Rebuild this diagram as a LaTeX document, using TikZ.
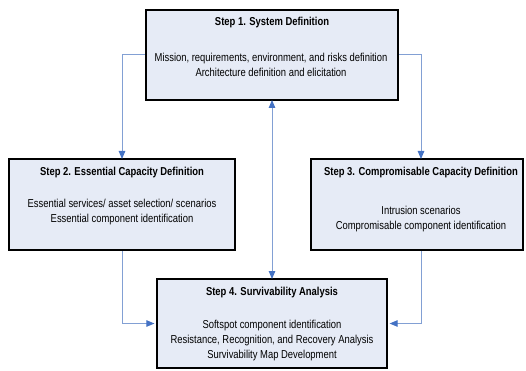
\documentclass[tikz,border=0pt]{standalone}
\usepackage{fontspec}
\setmainfont{Liberation Sans}[FakeStretch=0.82]
\usetikzlibrary{arrows.meta}
\definecolor{boxfill}{RGB}{230,235,246}
\definecolor{connline}{RGB}{130,160,212}
\definecolor{conntip}{RGB}{68,114,196}
\tikzset{
  stepbox/.style={draw=black, line width=2.6pt, fill=boxfill, inner sep=0pt},
  titletext/.style={font=\fontsize{11.5}{15}\selectfont\bfseries, inner sep=0pt},
  bodytext/.style={font=\fontsize{11.5}{15}\selectfont, align=center, inner sep=0pt},
  conn/.style={draw=connline, line width=1pt, -{Triangle[length=8pt,width=6.5pt,color=conntip]}},
  conn2/.style={draw=connline, line width=1pt, {Triangle[length=8pt,width=6.5pt,color=conntip]}-{Triangle[length=8pt,width=6.5pt,color=conntip]}},
}
\begin{document}
\begin{tikzpicture}[x=1pt,y=-1pt]
\useasboundingbox (0,0) rectangle (526,371);
% boxes
\node[stepbox, minimum width=252pt, minimum height=90pt] (b1) at (272,55) {};
\node[stepbox, minimum width=226pt, minimum height=91pt] (b2) at (122,204.5) {};
\node[stepbox, minimum width=212pt, minimum height=91pt] (b3) at (417,204.5) {};
\node[stepbox, minimum width=230pt, minimum height=89pt] (b4) at (272,323.5) {};
% texts
\node[titletext] (t1) at (272,23) {Step 1. System Definition};
\node[bodytext] (d1) at (271,64.5) {Mission, requirements, environment, and risks definition\\Architecture definition and elicitation};
\node[titletext] (t2) at (122,173) {Step 2. Essential Capacity Definition};
\node[bodytext] (d2) at (122,212) {Essential services/ asset selection/ scenarios\\Essential component identification};
\node[titletext] (t3) at (421,173) {Step 3. Compromisable Capacity Definition};
\node[bodytext] (d3) at (421,219.5) {Intrusion scenarios\\Compromisable component identification};
\node[titletext] (t4) at (272,293) {Step 4. Survivability Analysis};
\node[bodytext] (d4) at (272,341) {Softspot component identification\\Resistance, Recognition, and Recovery Analysis\\Survivability Map Development};
% connectors
\draw[conn] (b1.west) -| ([yshift=-1.3pt]b2.north);
\draw[conn] (b1.east) -| ([xshift=4pt,yshift=-1.3pt]b3.north);
\draw[conn2] ([yshift=1.3pt]b1.south) -- ([yshift=-1.3pt]b4.north);
\draw[conn] (b2.south) |- ([xshift=-1.3pt]b4.west);
\draw[conn] ([xshift=4pt]b3.south) |- ([xshift=1.3pt]b4.east);
\end{tikzpicture}
\end{document}
